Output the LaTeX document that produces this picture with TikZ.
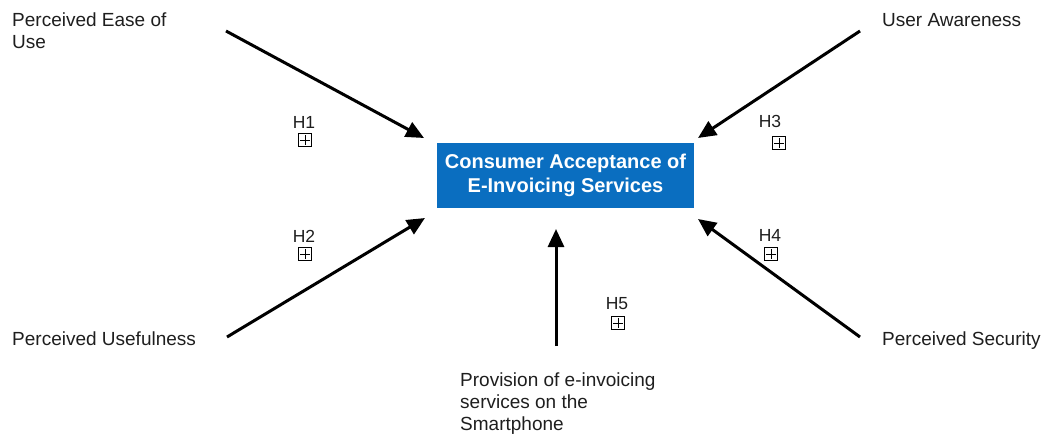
\documentclass[tikz,border=0pt]{standalone}
\usepackage{fontspec}
\setmainfont{Liberation Sans}
\usetikzlibrary{arrows.meta}
\definecolor{boxblue}{HTML}{0A6EC0}
\definecolor{ink}{HTML}{1E1E1E}
\begin{document}
\begin{tikzpicture}[x=1pt,y=-1pt,
  label/.style={inner sep=0pt,text=ink,align=left,font=\fontsize{19}{22}\selectfont},
  target/.style={fill=boxblue,text=white,inner sep=0pt,minimum width=257pt,minimum height=65pt,
    align=center,font=\fontsize{20}{24}\selectfont\bfseries},
  link/.style={line width=3pt,-{Triangle[length=18pt,width=16pt]}},
  hyp/.style={inner sep=0pt,text=ink,font=\fontsize{17.5}{20}\selectfont},
  plusbox/.style={draw=black,line width=1pt,minimum size=12.5pt,inner sep=0pt,
    path picture={
      \draw[line width=0.8pt] ([xshift=-4.6pt]path picture bounding box.center) -- ([xshift=4.6pt]path picture bounding box.center);
      \draw[line width=0.8pt] ([yshift=-4.6pt]path picture bounding box.center) -- ([yshift=4.6pt]path picture bounding box.center);
    }}]
\useasboundingbox (0,0) rectangle (1051,441);

% central construct
\node[target] (cae) at (565.5,175.5) {Consumer Acceptance of\\E-Invoicing Services};

% antecedent constructs
\node[label,anchor=north west] (peu) at (12,13) {Perceived Ease of\\Use};
\node[label,anchor=base west] (ua) at (882,27) {User Awareness};
\node[label,anchor=base west] (pu) at (12,345) {Perceived Usefulness};
\node[label,anchor=base west] (ps) at (882,345) {Perceived Security};
\node[label,anchor=north west] (prov) at (460,373) {Provision of e-invoicing\\services on the\\Smartphone};

% arrow end points
\coordinate (s1) at (226,31);  \coordinate (e1) at (424,138);
\coordinate (s3) at (860,31);  \coordinate (e3) at (698,138);
\coordinate (s2) at (227,337); \coordinate (e2) at (425,218);
\coordinate (s4) at (860,337); \coordinate (e4) at (698,219);
\coordinate (s5) at (556,346); \coordinate (e5) at (556,229);

\draw[link] (s1) -- (e1);
\draw[link] (s2) -- (e2);
\draw[link] (s3) -- (e3);
\draw[link] (s4) -- (e4);
\draw[link] (s5) -- (e5);

% hypothesis markers
\node[hyp] (h1) at (304,122) {H1};
\node[plusbox] (h1b) at (305,140) {};
\node[hyp] (h2) at (304,236) {H2};
\node[plusbox] (h2b) at (305,254) {};
\node[hyp] (h3) at (770,121) {H3};
\node[plusbox] (h3b) at (779,143) {};
\node[hyp] (h4) at (770,235) {H4};
\node[plusbox] (h4b) at (771,254) {};
\node[hyp] (h5) at (617,304) {H5};
\node[plusbox] (h5b) at (618,323) {};
\end{tikzpicture}
\end{document}
